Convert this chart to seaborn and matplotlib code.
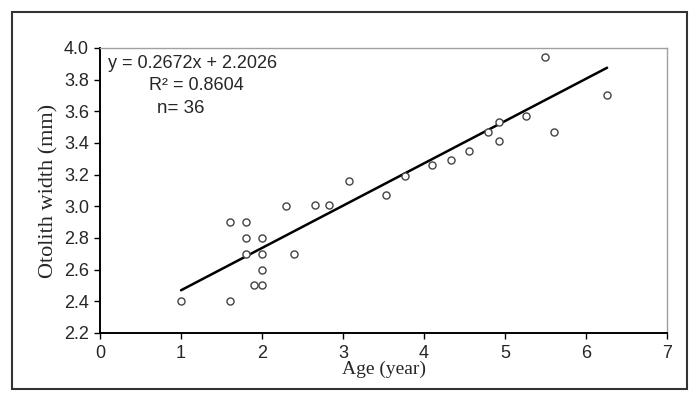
import numpy as np
import pandas as pd
import seaborn as sns
import matplotlib.pyplot as plt
from matplotlib.patches import Rectangle

# Otolith width vs age
age = [1.0, 1.6, 1.6, 1.8, 1.8, 1.8, 2.0, 2.0, 2.0, 1.9, 2.0, 2.3, 2.39, 2.66,
       2.83, 3.07, 3.53, 3.76, 4.10, 4.33, 4.56, 4.79, 4.92, 4.92, 5.26, 5.49,
       5.60, 6.26]
width = [2.40, 2.40, 2.90, 2.90, 2.80, 2.70, 2.80, 2.70, 2.60, 2.50, 2.50, 3.00,
         2.70, 3.01, 3.01, 3.16, 3.07, 3.19, 3.26, 3.29, 3.35, 3.47, 3.53, 3.41,
         3.57, 3.94, 3.47, 3.70]

# Regression reported on the chart
slope = 0.2672
intercept = 2.2026
r2 = 0.8604
n = 36

df = pd.DataFrame({"Age": age, "Width": width})
fit_x = np.array([min(age), max(age)])
fit_df = pd.DataFrame({"Age": fit_x, "Width": slope * fit_x + intercept})

sns.set_theme(style="white")
plt.rcParams['font.family'] = ['Liberation Sans', 'DejaVu Sans']

fig = plt.figure(figsize=(7, 3.95), dpi=100)
ax = fig.add_axes([0.1429, 0.157, 0.81, 0.7215])

sns.scatterplot(data=df, x="Age", y="Width", ax=ax, marker="o", s=26,
                facecolor="white", edgecolor="#444444", linewidth=1.0, zorder=3)
sns.lineplot(data=fit_df, x="Age", y="Width", ax=ax, color="black", linewidth=1.8, zorder=2)

ax.set_xlim(0, 7)
ax.set_ylim(2.2, 4.0)
ax.set_xticks(range(0, 8))
ax.set_yticks(np.arange(2.2, 4.01, 0.2))
ax.set_yticklabels([f"{v:.1f}" for v in np.arange(2.2, 4.01, 0.2)])
ax.tick_params(axis="both", which="both", labelsize=13, length=4, width=1,
               color="black", direction="out", left=True, bottom=True)
ax.tick_params(axis="y", pad=4)
ax.tick_params(axis="x", pad=5)

for side in ["left", "bottom"]:
    ax.spines[side].set_color("black")
    ax.spines[side].set_linewidth(1.4)
for side in ["top", "right"]:
    ax.spines[side].set_color("#a0a0a0")
    ax.spines[side].set_linewidth(1.0)

ax.set_xlabel("Age (year)", fontsize=14, family="Liberation Serif", labelpad=-1)
ax.set_ylabel("Otolith width (mm)", fontsize=16, family="Liberation Serif", labelpad=4)

ax.text(0.1, 3.90, f"y = {slope}x + {intercept}", fontsize=13, va="center", ha="left")
ax.text(0.6, 3.76, f"R\u00b2 = {r2}", fontsize=13, va="center", ha="left")
ax.text(0.7, 3.615, f"n= {n}", fontsize=13.5, va="center", ha="left")

# outer frame around the whole chart
fig.patches.append(Rectangle((12 / 700, 6 / 395), 675 / 700, 377 / 395,
                             transform=fig.transFigure, fill=False,
                             edgecolor="#333333", linewidth=1.5))

fig.savefig("out.png", dpi=100)
